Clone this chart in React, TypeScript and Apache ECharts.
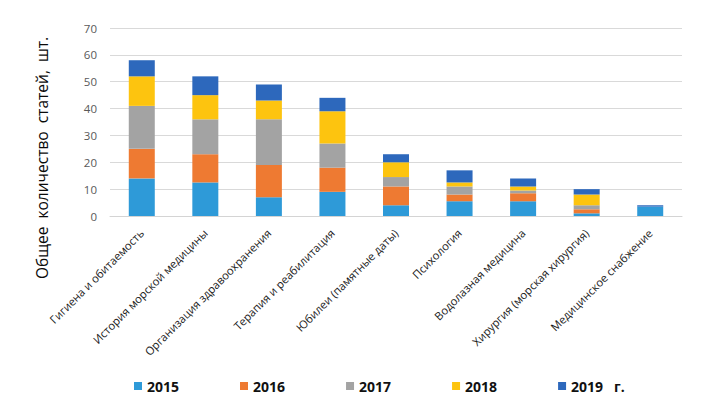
import React, { useEffect, useRef } from "react";
import * as echarts from "echarts";

const categories = [
  "Гигиена и обитаемость",
  "История морской медицины",
  "Организация здравоохранения",
  "Терапия и реабилитация",
  "Юбилеи (памятные даты)",
  "Психология",
  "Водолазная медицина",
  "Хирургия (морская хирургия)",
  "Медицинское снабжение",
];

const years = ["2015", "2016", "2017", "2018", "2019"];

const v2015 = [14, 12.5, 7, 9, 4, 5.5, 5.5, 1, 3.5];
const v2016 = [11, 10.5, 12, 9, 7, 2.5, 3, 1.5, 0];
const v2017 = [16, 13, 17, 9, 3.5, 3, 1, 1.5, 0];
const v2018 = [11, 9, 7, 12, 5.5, 1.5, 1.5, 4, 0];
const v2019 = [6, 7, 6, 5, 3, 4.5, 3, 2, 0.5];

const yTicks = { min: 0, max: 70, interval: 10 };

const colors = ["#2E9AD8", "#EE7A32", "#A3A3A3", "#FDC40F", "#2D68BC"];

const FONT = "'Open Sans', 'Noto Sans', sans-serif";

export default function App() {
  const ref = useRef<HTMLDivElement>(null);
  useEffect(() => {
    document.body.style.margin = "0";
    if (!ref.current) return;
    const chart = echarts.init(ref.current, undefined, { renderer: "svg" });
    const values = [v2015, v2016, v2017, v2018, v2019];
    chart.setOption({
      animation: false,
      backgroundColor: "#ffffff",
      textStyle: { fontFamily: FONT },
      grid: { left: 110, right: 37, top: 28, bottom: 187, containLabel: false },
      legend: {
        data: years,
        left: 129,
        top: 374,
        itemWidth: 8,
        itemHeight: 8,
        itemGap: 61,
        icon: "rect",
        formatter: (n: string) => (n === "2019" ? "2019   г." : n),
        textStyle: { fontFamily: FONT, fontWeight: "bold", fontSize: 14, color: "#111" },
      },
      xAxis: {
        type: "category",
        data: categories,
        axisLine: { lineStyle: { color: "#d4d4d4" } },
        axisTick: { show: false },
        axisLabel: {
          rotate: 45,
          interval: 0,
          margin: 15,
          fontSize: 11.2,
          color: "#1a1a1a",
          fontFamily: FONT,
        },
      },
      yAxis: {
        type: "value",
        min: yTicks.min,
        max: yTicks.max,
        interval: yTicks.interval,
        axisLine: { show: false },
        axisTick: { show: false },
        axisLabel: { fontSize: 11.5, color: "#595959", margin: 13, fontFamily: FONT },
        splitLine: { lineStyle: { color: "#d9d9d9" } },
      },
      graphic: [
        {
          type: "text",
          x: 42,
          y: 158,
          rotation: Math.PI / 2,
          style: {
            text: "Общее  количество  статей,  шт.",
            font: `15.5px ${FONT}`,
            fill: "#0a0a0a",
            textAlign: "center",
            textVerticalAlign: "middle",
          },
        },
      ],
      series: years.map((y, i) => ({
        name: y,
        type: "bar",
        stack: "total",
        barWidth: 26,
        data: values[i],
        itemStyle: { color: colors[i] },
      })),
    });
    return () => chart.dispose();
  }, []);
  return <div ref={ref} style={{ width: 719, height: 403 }} />;
}
